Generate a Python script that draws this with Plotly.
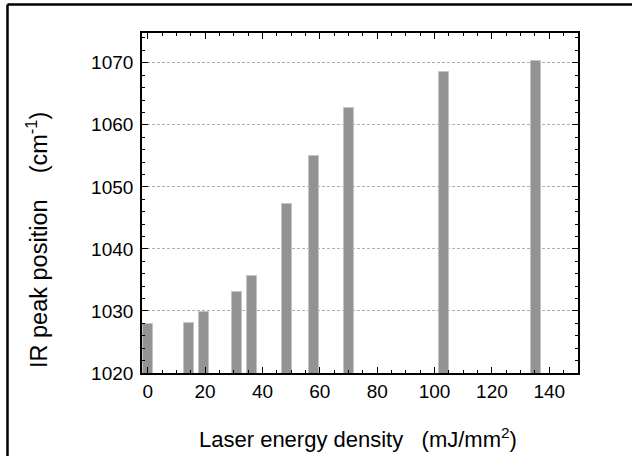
import plotly.graph_objects as go

energy = [0, 14.4, 19.5, 31, 36.4, 48.6, 58, 70.1, 103.3, 135.5]
peak = [1027.9, 1028.1, 1029.9, 1033.0, 1035.7, 1047.3, 1055.0, 1062.65, 1068.5, 1070.35]
x_ticks = [0, 20, 40, 60, 80, 100, 120, 140]
y_ticks = [1020, 1030, 1040, 1050, 1060, 1070]
x_title = "Laser energy density\u00a0\u00a0\u00a0(mJ/mm<sup>2</sup>)"
y_title = "IR peak position\u00a0\u00a0\u00a0\u00a0(cm<sup>-1</sup>)"

W, H = 632, 456
L, R, T, B = 142, 54, 33, 83

fig = go.Figure()
fig.add_trace(go.Bar(
    x=energy, y=peak, width=3.5,
    marker=dict(color="#939396", line=dict(color="#c4c4c6", width=1)),
))

font = "Liberation Sans, Arial, sans-serif"
axis_common = dict(
    showline=True, linecolor="black", linewidth=1.6, mirror="allticks",
    ticks="inside", ticklen=6, tickwidth=1.2, tickcolor="black",
    tickfont=dict(family=font, size=19, color="black"),
    zeroline=False,
)
fig.update_xaxes(
    range=[-2, 150], tickvals=x_ticks, showgrid=False,
    minor=dict(dtick=5, ticks="inside", ticklen=3, tickwidth=1.2, tickcolor="black", showgrid=False),
    **axis_common,
)
fig.update_yaxes(
    range=[1020, 1074.8], tickvals=y_ticks,
    showgrid=True, gridcolor="#b0b0b0", griddash="3px,2px", gridwidth=1,
    minor=dict(dtick=2, ticks="inside", ticklen=3, tickwidth=1.2, tickcolor="black", showgrid=False),
    ticklabelstandoff=3,
    **axis_common,
)

pw, ph = W - L - R, H - T - B
def px2x(px):
    return (px - L) / pw
def py2y(py):
    return 1 - (py - T) / ph

fig.add_annotation(text=x_title, xref="paper", yref="paper",
                   x=px2x(358), y=py2y(438), xanchor="center", yanchor="middle",
                   showarrow=False, font=dict(family=font, size=22, color="black"))
fig.add_annotation(text=y_title, xref="paper", yref="paper",
                   x=px2x(37), y=py2y(240), xanchor="center", yanchor="middle",
                   textangle=-90, showarrow=False,
                   font=dict(family=font, size=23.5, color="black"))

frame = dict(color="black", width=2.5)
fig.add_shape(type="line", xref="paper", yref="paper",
              x0=px2x(7.5), x1=px2x(640), y0=py2y(4.5), y1=py2y(4.5), line=frame)
fig.add_shape(type="line", xref="paper", yref="paper",
              x0=px2x(7.5), x1=px2x(7.5), y0=py2y(4.5), y1=py2y(470), line=frame)

fig.update_layout(
    width=W, height=H,
    margin=dict(l=L, r=R, t=T, b=B),
    paper_bgcolor="white", plot_bgcolor="white",
    showlegend=False, bargap=0,
)
fig.write_html("out.html", config={"displayModeBar": False},
               post_script="document.body.style.margin='0';document.body.style.overflow='hidden';")
